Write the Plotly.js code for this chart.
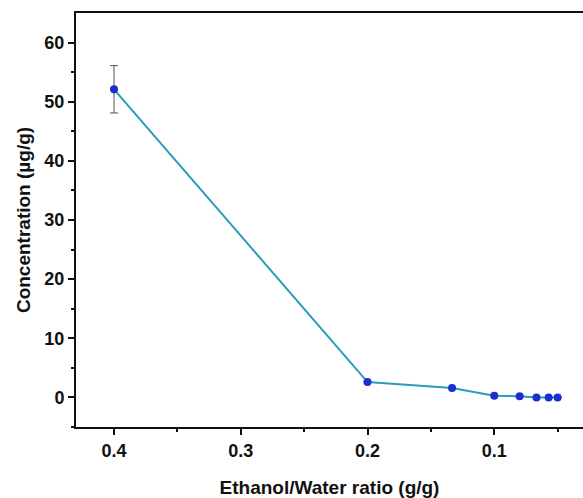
<!DOCTYPE html>
<html><head><meta charset="utf-8">
<script src="https://cdn.plot.ly/plotly-3.0.1.min.js"></script>
<style>html,body{margin:0;padding:0;background:#fff}</style>
</head><body><div id="c" style="width:583px;height:498px"></div>
<script>
const ratio = [0.4, 0.2, 0.1333, 0.1, 0.08, 0.0667, 0.0571, 0.05];
const concentration = [52.1, 2.6, 1.6, 0.3, 0.2, 0.0, 0.0, 0.0];
const errorVals = [4.0, 0, 0, 0, 0, 0, 0, 0];
const xTicks = [0.4, 0.3, 0.2, 0.1];
const yTicks = [0, 10, 20, 30, 40, 50, 60];

const FAM = 'Liberation Sans, Arial, sans-serif';
Plotly.newPlot('c', [{
  x: ratio, y: concentration, type: 'scatter', mode: 'lines+markers',
  line: {color: '#2a9cb8', width: 2},
  marker: {color: '#1a2fd0', size: 8},
  error_y: {type: 'data', array: errorVals, color: '#555', thickness: 1, width: 4, visible: true}
}], {
  width: 583, height: 498,
  margin: {l: 76, r: 0, t: 13, b: 71},
  paper_bgcolor: '#fff', plot_bgcolor: '#fff',
  showlegend: false,
  font: {family: FAM, size: 18, color: '#111', weight: 'bold'},
  xaxis: {
    range: [0.43, 0.03], tickvals: xTicks, ticktext: xTicks.map(v => v.toFixed(1)),
    ticks: 'outside', ticklen: 6, tickwidth: 2, tickcolor: '#111',
    minor: {tickvals: [0.35, 0.25, 0.15, 0.05], ticks: 'outside', ticklen: 3, tickwidth: 2, tickcolor: '#111'},
    showline: true, linecolor: '#111', linewidth: 2, mirror: true,
    showgrid: false, zeroline: false,
    tickfont: {family: FAM, size: 18, color: '#111', weight: 'bold'},
    title: {text: 'Ethanol/Water ratio (g/g)', standoff: 22,
      font: {family: FAM, size: 19, color: '#111', weight: 'bold'}}
  },
  yaxis: {
    range: [-5, 65], tickvals: yTicks,
    ticks: 'outside', ticklen: 6, tickwidth: 2, tickcolor: '#111',
    minor: {tickvals: [-5, 5, 15, 25, 35, 45, 55], ticks: 'outside', ticklen: 3, tickwidth: 2, tickcolor: '#111'},
    showline: true, linecolor: '#111', linewidth: 2, mirror: false,
    showgrid: false, zeroline: false,
    tickfont: {family: FAM, size: 18, color: '#111', weight: 'bold'},
    title: {text: 'Concentration (µg/g)', standoff: 9,
      font: {family: FAM, size: 19, color: '#111', weight: 'bold'}}
  }
}, {displayModeBar: false, staticPlot: true});
</script></body></html>
